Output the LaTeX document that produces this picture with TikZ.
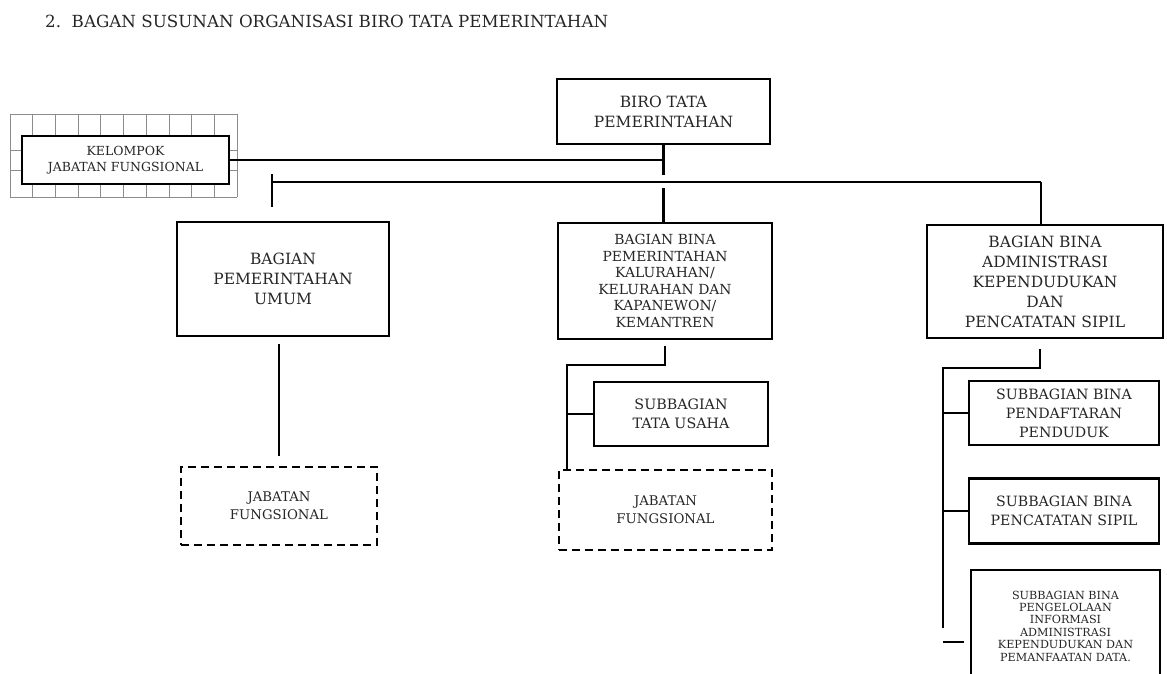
\documentclass[tikz,border=0pt]{standalone}
\usepackage{fontspec}
\setmainfont{DejaVu Serif}
\definecolor{txt}{gray}{0.15}
\definecolor{gridc}{gray}{0.55}
\begin{document}
\begin{tikzpicture}[x=1pt,y=-1pt,
  box/.style={draw, line width=2.3pt, fill=white, align=center, text=txt, inner sep=0pt},
  dbox/.style={draw, line width=2.3pt, dash pattern=on 8pt off 5pt, align=center, text=txt, inner sep=0pt},
  conn/.style={draw, line width=2.3pt},
  gridline/.style={draw=gridc, line width=0.8pt},
  fs/.style 2 args={font=\fontsize{#1}{#2}\selectfont}
]
\useasboundingbox (0,0) rectangle (1167,673);
\clip (0,0) rectangle (1167,673);

% title
\node[anchor=west, text=txt, inner sep=0pt, fs={16.7}{20}] (title) at (45,21)
  {2.\ \ BAGAN SUSUNAN ORGANISASI BIRO TATA PEMERINTAHAN};

% grid behind kelompok
\foreach \i in {0,...,10} \draw[gridline] ({10+\i*22.7},114) -- ({10+\i*22.7},197);
\foreach \yy in {114,150,170,197} \draw[gridline] (10,\yy) -- (237,\yy);

% nodes
\node[box, minimum width=213pt, minimum height=65pt, fs={15.5}{20}] (biro) at (663.5,111.5) {BIRO TATA\\PEMERINTAHAN};
\node[box, minimum width=207pt, minimum height=48pt, fs={12.5}{16}] (kel) at (125.5,160) {KELOMPOK\\JABATAN FUNGSIONAL};
\node[box, minimum width=212pt, minimum height=114pt, fs={15.5}{20}] (bpu) at (283,279) {BAGIAN\\PEMERINTAHAN\\UMUM};
\node[box, minimum width=214pt, minimum height=116pt, fs={13.9}{16.5}] (bbp) at (665,281) {BAGIAN BINA\\PEMERINTAHAN\\KALURAHAN/\\KELURAHAN DAN\\KAPANEWON/\\KEMANTREN};
\node[box, minimum width=236pt, minimum height=113pt, fs={15.5}{20}] (bba) at (1045,281.5) {BAGIAN BINA\\ADMINISTRASI\\KEPENDUDUKAN\\DAN\\PENCATATAN SIPIL};
\node[dbox, minimum width=196pt, minimum height=78pt, fs={13.3}{18}] (jab1) at (279,506) {JABATAN\\FUNGSIONAL};
\node[box, minimum width=174pt, minimum height=64pt, fs={14.3}{19}] (stu) at (681,414) {SUBBAGIAN\\TATA USAHA};
\node[dbox, minimum width=213pt, minimum height=80pt, fs={13.3}{18}] (jab2) at (665.5,510) {JABATAN\\FUNGSIONAL};
\node[box, minimum width=190pt, minimum height=64pt, fs={14.2}{19}] (sb1) at (1064,413) {SUBBAGIAN BINA\\PENDAFTARAN\\PENDUDUK};
\node[box, minimum width=190pt, minimum height=65pt, fs={14.2}{19}] (sb2) at (1064,511) {SUBBAGIAN BINA\\PENCATATAN SIPIL};
\node[box, minimum width=189pt, minimum height=112pt, fs={11.2}{12.4}] (sb3) at (1065.5,626) {SUBBAGIAN BINA\\PENGELOLAAN\\INFORMASI\\ADMINISTRASI\\KEPENDUDUKAN DAN\\PEMANFAATAN DATA.};

% connectors
\coordinate (bM) at (663.5,182);
\coordinate (bL) at (272,182);
\coordinate (bR) at (1041,182);
\draw[conn, shorten >=7pt] (biro.south) -- (bM);
\draw[conn] (kel.east) -- (kel.east -| bM);
\draw[conn] (bL) -- (bR);
\draw[conn, shorten <=6pt] (bM) -- (bM |- bbp.north);
\draw[conn, shorten <=-8pt, shorten >=14pt] (bL) -- (bL |- bpu.north);
\draw[conn] (bR) -- (bR |- bba.north);

\draw[conn, shorten <=7pt, shorten >=10pt] (bpu.south -| jab1.north) -- (jab1.north);

\coordinate (m1) at (665,365);
\coordinate (m2) at (567,365);
\draw[conn, shorten <=6pt] (bbp.south) -- (m1) -- (m2) -- (m2 |- jab2.north);
\draw[conn] (m2 |- stu.west) -- (stu.west);

\coordinate (r1) at (1040,368);
\coordinate (r2) at (943,368);
\coordinate (r3) at (943,628);
\coordinate (r4) at (943,642);
\draw[conn, shorten <=10pt] (bba.south -| r1) -- (r1) -- (r2) -- (r3);
\draw[conn] (r2 |- sb1.west) -- (sb1.west);
\draw[conn] (r2 |- sb2.west) -- (sb2.west);
\draw[conn, shorten >=6pt] (r4) -- (r4 -| sb3.west);
\end{tikzpicture}
\end{document}
